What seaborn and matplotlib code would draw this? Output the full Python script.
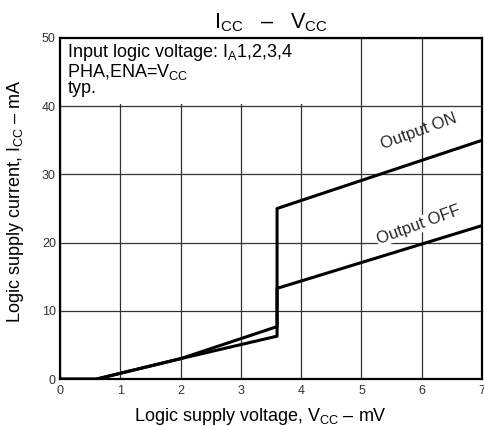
import matplotlib
matplotlib.use("Agg")
import matplotlib.pyplot as plt
import seaborn as sns
import pandas as pd
from matplotlib.patches import Rectangle

# data
v_on = [0.0, 0.6, 2.0, 3.6, 3.6, 7.0]
i_on = [0.0, 0.0, 3.0, 7.7, 25.0, 35.0]
v_off = [0.0, 0.6, 2.0, 3.6, 3.6, 7.0]
i_off = [0.0, 0.0, 3.0, 6.3, 13.3, 22.5]
x_ticks = [0, 1, 2, 3, 4, 5, 6, 7]
y_ticks = [0, 10, 20, 30, 40, 50]

sns.set_theme(style="white")
plt.rcParams['font.family'] = ['Liberation Sans', 'DejaVu Sans']
plt.rcParams['mathtext.fontset'] = 'custom'
plt.rcParams['mathtext.rm'] = 'Liberation Sans'
plt.rcParams['mathtext.it'] = 'Liberation Sans'

fig = plt.figure(figsize=(4.84, 4.26), dpi=100)
ax = fig.add_axes([0.124, 0.110, 0.872, 0.801])

df_on = pd.DataFrame({"v": v_on, "i": i_on})
df_off = pd.DataFrame({"v": v_off, "i": i_off})
sns.lineplot(data=df_on, x="v", y="i", sort=False, estimator=None, color="black", lw=2.2, ax=ax, zorder=5)
sns.lineplot(data=df_off, x="v", y="i", sort=False, estimator=None, color="black", lw=2.2, ax=ax, zorder=5)

ax.set_xlim(0, 7)
ax.set_ylim(0, 50)
ax.set_xticks(x_ticks)
ax.set_yticks(y_ticks)
ax.set_xticklabels([str(t) for t in x_ticks])
ax.set_yticklabels([str(t) for t in y_ticks])
ax.tick_params(length=0, labelsize=9, colors="#333333")
ax.tick_params(axis="x", pad=4)
ax.tick_params(axis="y", pad=3)
ax.grid(True, color="#333333", lw=0.9)
ax.set_axisbelow(True)
for s in ax.spines.values():
    s.set_color("black")
    s.set_linewidth(1.6)

ax.set_xlabel(r"Logic supply voltage, V$_{\mathrm{CC}}$ – mV", fontsize=13, color="black")
ax.xaxis.set_label_coords(0.474, -0.078)
ax.set_ylabel(r"Logic supply current, I$_{\mathrm{CC}}$ – mA", fontsize=13, color="black")
ax.yaxis.set_label_coords(-0.080, 0.522)
ax.set_title(r"I$_{\mathrm{CC}}$   –   V$_{\mathrm{CC}}$", fontsize=15.5, pad=7, color="black")

ax.add_patch(Rectangle((0.02, 40.35), 4.03, 9.6, facecolor="white", edgecolor="none", zorder=2))
ax.text(0.12, 49.4, "Input logic voltage: I$_{\\mathrm{A}}$1,2,3,4\nPHA,ENA=V$_{\\mathrm{CC}}$\ntyp.",
        fontsize=13, va="top", ha="left", linespacing=0.9, zorder=3, color="black")

ax.text(5.95, 36.3, "Output ON", fontsize=12, rotation=20, ha="center", va="center", zorder=6)
ax.text(5.95, 22.6, "Output OFF", fontsize=12, rotation=20, ha="center", va="center", zorder=6,
        bbox=dict(facecolor="white", edgecolor="none", pad=0.5))

fig.savefig("out.png", dpi=100)
